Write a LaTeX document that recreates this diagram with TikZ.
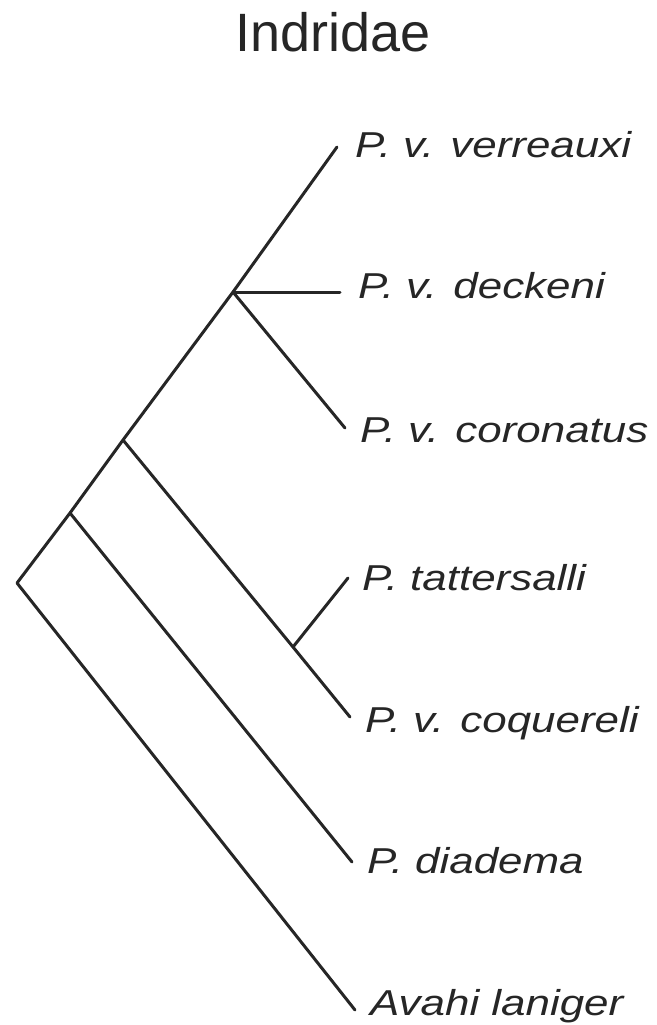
\documentclass[tikz,border=0pt]{standalone}
\usepackage{fontspec}
\setmainfont{Liberation Sans}
\newfontfamily\taxonfont[FakeStretch=1.22]{Liberation Sans}
\usetikzlibrary{positioning, calc}

\begin{document}
\begin{tikzpicture}[
    x=1pt, y=-1pt,
    branch/.style={line width=3pt, draw=black!85, line cap=round, line join=round},
    taxon/.style={anchor=base west, inner sep=0pt, text=black!85, font=\fontsize{36}{40}\selectfont\taxonfont\itshape},
    title/.style={anchor=base west, inner sep=0pt, text=black!85, font=\fontsize{54}{60}\selectfont}
]
\useasboundingbox (0,0) rectangle (656,1025);

\node[title] (family) at (235,52) {Indridae};

% internal nodes of the tree
\coordinate (root) at (17,583);
\coordinate (nodeA) at (70,513);
\coordinate (nodeB) at (123,440);
\coordinate (nodeC) at (233,292);
\coordinate (nodeD) at (293,647);

% branch tips
\coordinate (tipverr) at (337,147);
\coordinate (tipdeck) at (340,292);
\coordinate (tipcoro) at (345,428);
\coordinate (tiptatt) at (348,578);
\coordinate (tipcoq) at (350,717);
\coordinate (tipdiad) at (352,862);
\coordinate (tipavahi) at (355,1010);

\node[taxon] (verr) at (355,157) {P. v. verreauxi};
\node[taxon] (deck) at (358,298) {P. v. deckeni};
\node[taxon] (coro) at (360,442) {P. v. coronatus};
\node[taxon] (tatt) at (362,590) {P. tattersalli};
\node[taxon] (coq) at (365,732) {P. v. coquereli};
\node[taxon] (diad) at (367,873) {P. diadema};
\node[taxon] (avahi) at (370,1015) {Avahi laniger};

\draw[branch] (tipavahi) -- (root) -- (nodeA) -- (nodeB) -- (nodeC) -- (tipverr);
\draw[branch] (nodeA) -- (tipdiad);
\draw[branch] (nodeB) -- (nodeD) -- (tipcoq);
\draw[branch] (nodeD) -- (tiptatt);
\draw[branch] (nodeC) -- (tipdeck);
\draw[branch] (nodeC) -- (tipcoro);

\end{tikzpicture}
\end{document}
